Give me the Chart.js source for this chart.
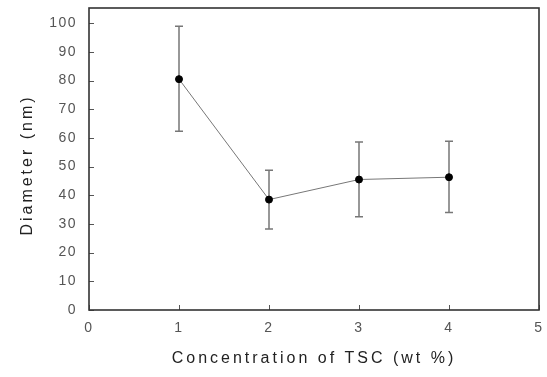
<!DOCTYPE html>
<html><head><meta charset="utf-8">
<script src="https://cdn.jsdelivr.net/npm/chart.js@4/dist/chart.umd.min.js"></script>
<style>html,body{margin:0;padding:0;background:#fff}#wrap{width:547px;height:377px}</style>
</head><body><div id="wrap"><canvas id="c" width="547" height="377"></canvas></div>
<script>
const concentrations = [1, 2, 3, 4];
const diameters = [80.5, 38.5, 45.5, 46.3];
const errLow = [62.3, 28.2, 32.5, 34.0];
const errHigh = [98.9, 48.7, 58.6, 58.8];
const xTicks = [0, 1, 2, 3, 4, 5];
const yTicks = [0, 10, 20, 30, 40, 50, 60, 70, 80, 90, 100];

const FONT = "'Liberation Sans Narrow','Arial Narrow','Liberation Sans',Arial,sans-serif";
const TICK_SP = '1.5px';
const TITLE_SP = '3px';

const spacing = {
  id: 'spacing',
  beforeInit(chart){ chart.ctx.letterSpacing = TICK_SP; },
  beforeUpdate(chart){ chart.ctx.letterSpacing = TICK_SP; },
  beforeDraw(chart){
    const ctx = chart.ctx;
    ctx.letterSpacing = TICK_SP;
    Object.values(chart.scales).forEach(s => {
      if (!s._patchedTitle) {
        const orig = s.drawTitle;
        const vertical = s.axis === 'y';
        s.drawTitle = function(){
          ctx.save();
          ctx.letterSpacing = TITLE_SP;
          if (vertical) ctx.translate(0, 6);
          orig.apply(this, arguments);
          ctx.restore();
          ctx.letterSpacing = TICK_SP;
        };
        s._patchedTitle = true;
      }
    });
  }
};

const frame = {
  id: 'frame',
  afterDraw(chart){
    const {ctx, chartArea:a, scales} = chart;
    ctx.save();
    ctx.letterSpacing = '0px';
    ctx.strokeStyle = '#555';
    ctx.lineWidth = 1;
    ctx.beginPath();
    yTicks.forEach(v => {
      const y = Math.round(scales.y.getPixelForValue(v)) + 0.5;
      ctx.moveTo(a.left, y); ctx.lineTo(a.left + 5, y);
    });
    xTicks.forEach(v => {
      const x = Math.round(scales.x.getPixelForValue(v)) + 0.5;
      ctx.moveTo(x, a.bottom); ctx.lineTo(x, a.bottom - 5);
    });
    ctx.stroke();
    ctx.strokeStyle = '#333';
    ctx.lineWidth = 1.6;
    ctx.strokeRect(a.left, a.top, a.right - a.left, a.bottom - a.top);
    ctx.restore();
  }
};

const errorBars = {
  id: 'errorBars',
  beforeDatasetsDraw(chart){
    const {ctx, scales} = chart;
    ctx.save();
    ctx.strokeStyle = '#777';
    ctx.lineWidth = 1.5;
    concentrations.forEach((c, i) => {
      const x = scales.x.getPixelForValue(c);
      const y1 = scales.y.getPixelForValue(errLow[i]);
      const y2 = scales.y.getPixelForValue(errHigh[i]);
      ctx.beginPath();
      ctx.moveTo(x, y1); ctx.lineTo(x, y2);
      ctx.moveTo(x - 4, y1); ctx.lineTo(x + 4, y1);
      ctx.moveTo(x - 4, y2); ctx.lineTo(x + 4, y2);
      ctx.stroke();
    });
    ctx.restore();
  }
};

new Chart(document.getElementById('c'), {
  type: 'scatter',
  data: {
    datasets: [{
      data: concentrations.map((c, i) => ({x: c, y: diameters[i]})),
      showLine: true,
      borderColor: '#777',
      borderWidth: 1,
      pointBackgroundColor: '#000',
      pointBorderColor: '#000',
      pointRadius: 3.5,
      tension: 0
    }]
  },
  options: {
    responsive: false,
    animation: false,
    devicePixelRatio: 1,
    layout: {padding: {left: 0, right: 8, top: 8, bottom: 0}},
    plugins: {legend: {display: false}, tooltip: {enabled: false}},
    scales: {
      x: {
        type: 'linear', min: 0, max: 5,
        afterBuildTicks: s => { s.ticks = xTicks.map(v => ({value: v})); },
        afterFit: s => { s.height = 67; s.paddingLeft = 0; s.paddingRight = 0; },
        grid: {display: false},
        border: {display: false},
        ticks: {padding: 2, color: '#555', font: {family: FONT, size: 14}},
        title: {display: true, text: 'Concentration of TSC (wt %)', color: '#222',
                font: {family: FONT, size: 16}, padding: {top: 0, bottom: 9}}
      },
      y: {
        type: 'linear', min: 0, max: 105.3,
        afterBuildTicks: s => { s.ticks = yTicks.map(v => ({value: v})); },
        afterFit: s => { s.width = 89; s.paddingTop = 0; s.paddingBottom = 0; },
        grid: {display: false},
        border: {display: false},
        ticks: {padding: 4, color: '#555', font: {family: FONT, size: 14}},
        title: {display: true, text: 'Diameter (nm)', color: '#222',
                font: {family: FONT, size: 16}, padding: {top: 18, bottom: 0}}
      }
    }
  },
  plugins: [spacing, errorBars, frame]
});
</script></body></html>
